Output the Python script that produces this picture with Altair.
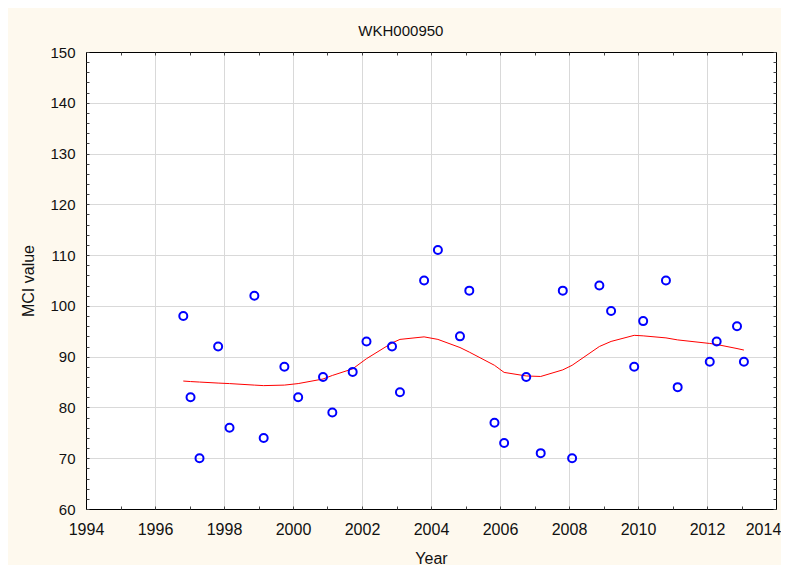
import altair as alt
import pandas as pd

# ---- data ----
years = [1996.82, 1997.03, 1997.29, 1997.83, 1998.16, 1998.88, 1999.15, 1999.75,
         2000.15, 2000.87, 2001.14, 2001.73, 2002.13, 2002.87, 2003.10, 2003.80,
         2004.20, 2004.84, 2005.11, 2005.84, 2006.12, 2006.76, 2007.18, 2007.82,
         2008.09, 2008.88, 2009.22, 2009.89, 2010.15, 2010.81, 2011.15, 2012.08,
         2012.28, 2012.87, 2013.07]
mci = [98, 82, 70, 92, 76, 102, 74, 88,
       82, 86, 79, 87, 93, 92, 83, 105,
       111, 94, 103, 77, 73, 86, 71, 103,
       70, 104, 99, 88, 97, 105, 84, 89,
       93, 96, 89]
fit = [85.2, 85.1, 85.0, 84.8, 84.7, 84.4, 84.3, 84.4,
       84.7, 85.6, 86.3, 87.6, 89.6, 92.7, 93.4, 93.9,
       93.4, 91.8, 90.9, 88.3, 86.9, 86.2, 86.1, 87.4,
       88.3, 92.0, 93.0, 94.2, 94.1, 93.7, 93.3, 92.6,
       92.4, 91.6, 91.3]

x_major = list(range(1994, 2015, 2))
x_all = list(range(1994, 2015, 1))
y_major = list(range(60, 151, 10))
y_all = list(range(60, 151, 2))

df = pd.DataFrame({"Year": years, "MCI": mci, "Fit": fit})

FONT = "Liberation Sans"
xs = alt.Scale(domain=[1994, 2014], nice=False, zero=False)
ys = alt.Scale(domain=[60, 150], nice=False, zero=False)

base = alt.Chart(df)


def label_axis(orient, values, title, **kw):
    return alt.Axis(orient=orient, values=values, format="d", grid=True,
                    gridColor="#d9d9d9", gridWidth=1, ticks=False,
                    domain=True, domainColor="black", domainWidth=1,
                    labelFont=FONT, labelColor="#111111",
                    labelFlush=False, labelOverlap=False,
                    title=title, titleFont=FONT, titleFontSize=16,
                    titleFontWeight="normal", titleColor="#111111", **kw)


def frame_axis(orient):
    return alt.Axis(orient=orient, labels=False, ticks=False, grid=False,
                    domain=True, domainColor="black", domainWidth=1, title=None)


def tick_axis(orient, values):
    return alt.Axis(orient=orient, values=values, labels=False, ticks=True,
                    tickSize=3, tickColor="#444444", tickWidth=1, grid=False,
                    domain=False, title=None, offset=-3)


line = base.mark_line(color="#ff0000", strokeWidth=1).encode(
    x=alt.X("Year:Q", scale=xs, axis=frame_axis("top")),
    y=alt.Y("Fit:Q", scale=ys, axis=frame_axis("right")),
)

points = base.mark_point(shape="circle", filled=False, color="#0000ff",
                         size=64, strokeWidth=2, opacity=1).encode(
    x=alt.X("Year:Q", scale=xs,
            axis=label_axis("bottom", x_major, "Year", labelFontSize=16,
                            labelPadding=12, titlePadding=13,
                            labelOffset={"condition": {"test": "datum.value >= 2014",
                                                       "value": -13},
                                         "value": 0})),
    y=alt.Y("MCI:Q", scale=ys,
            axis=label_axis("left", y_major, "MCI value", labelFontSize=15,
                            labelPadding=11, titlePadding=13)),
)

ticks_a = base.mark_point(opacity=0).encode(
    x=alt.X("Year:Q", scale=xs, axis=tick_axis("bottom", x_all)),
    y=alt.Y("MCI:Q", scale=ys, axis=tick_axis("left", y_all)),
)

ticks_b = base.mark_point(opacity=0).encode(
    x=alt.X("Year:Q", scale=xs, axis=tick_axis("top", x_all)),
    y=alt.Y("MCI:Q", scale=ys, axis=tick_axis("right", y_all)),
)

chart = alt.layer(line, points, ticks_a, ticks_b).resolve_axis(
    x="independent", y="independent"
).properties(
    width=690,
    height=457,
    autosize=alt.AutoSizeParams(type="none"),
    padding={"left": 78, "top": 44, "right": 5, "bottom": 56},
    background="#fef9ee",
    title=alt.TitleParams("WKH000950", font=FONT, fontSize=15, fontWeight="normal",
                          color="#111111", anchor="middle", frame="bounds", offset=6),
).configure_view(fill="white", stroke="transparent")

chart.save("out.html", embed_options={"renderer": "svg", "actions": False})
